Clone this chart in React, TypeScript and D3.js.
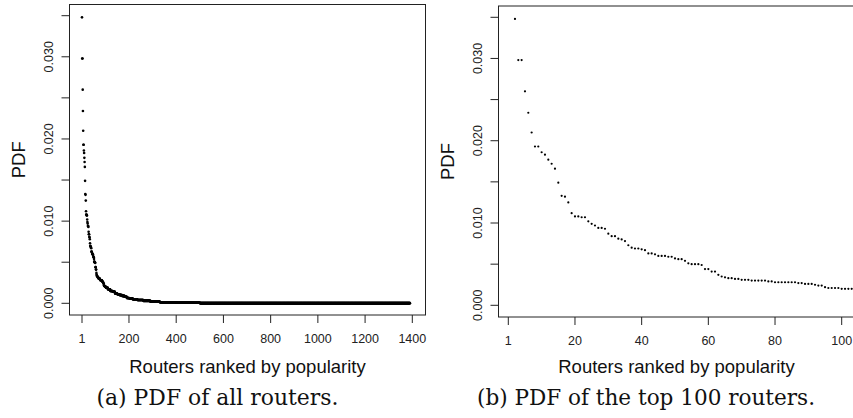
import React from "react";
import * as d3 from "d3";

const W = 853;
const H = 418;

// PDF of the 102 most popular routers
const topPdf = [
  0.0348, 0.0298, 0.0298, 0.026, 0.0234, 0.021, 0.0193, 0.0193, 0.0186, 0.0183,
  0.0177, 0.0172, 0.0166, 0.0149, 0.0133, 0.0132, 0.0125, 0.0112, 0.0108, 0.0108,
  0.0107, 0.0107, 0.0102, 0.0099, 0.0097, 0.0094, 0.0094, 0.0093, 0.0087, 0.0084,
  0.0084, 0.0081, 0.008, 0.0078, 0.0073, 0.007, 0.0069, 0.0069, 0.0068, 0.0067,
  0.0063, 0.0063, 0.0062, 0.006, 0.006, 0.006, 0.0059, 0.0059, 0.0057, 0.0056,
  0.0056, 0.0054, 0.0051, 0.005, 0.005, 0.005, 0.0049, 0.0044, 0.0044, 0.0041,
  0.0041, 0.0037, 0.0035, 0.0034, 0.0033, 0.0033, 0.0032, 0.0032, 0.0031, 0.0031,
  0.0031, 0.003, 0.003, 0.003, 0.003, 0.003, 0.0029, 0.0029, 0.0028, 0.0028,
  0.0028, 0.0028, 0.0028, 0.0028, 0.0028, 0.0027, 0.0027, 0.0026, 0.0026, 0.0026,
  0.0025, 0.0024, 0.0024, 0.0022, 0.0021, 0.0021, 0.0021, 0.0021, 0.002, 0.002,
  0.002, 0.002,
];

// long tail (ranks 103..1390), as runs of equal value
const tailPdf = [
  0.0019, 0.0017, 0.0015, 0.0014, 0.0012, 0.0011, 0.001, 0.0009, 0.0008, 0.00065,
  0.0006, 0.0005, 0.0004, 0.0003, 0.0002, 0.00012, 0.00006, 0.00002,
];
const tailRun = [8, 10, 10, 10, 10, 10, 10, 10, 10, 10, 15, 20, 25, 30, 40, 70, 100, 890];

const yTicks = [0, 0.005, 0.01, 0.015, 0.02, 0.025, 0.03, 0.035];
const yLabelled = [0, 0.01, 0.02, 0.03];
const allXTicks = [1, 200, 400, 600, 800, 1000, 1200, 1400];
const topXTickAt = [0, 20, 40, 60, 80, 100];
const topXTickLabels = ["1", "20", "40", "60", "80", "100"];

const allPdf: number[] = [...topPdf];
tailPdf.forEach((v, i) => {
  for (let k = 0; k < tailRun[i]; k++) allPdf.push(v);
});

const fmt = d3.format(".3f");
const sans = "'Liberation Sans', Arial, Helvetica, sans-serif";
const serif = "'DejaVu Serif', serif";

type PanelProps = {
  box: { x0: number; x1: number; y0: number; y1: number };
  x: d3.ScaleLinear<number, number>;
  y: d3.ScaleLinear<number, number>;
  xTicks: number[];
  xLabels: string[];
  pts: { cx: number; cy: number }[];
  r: number;
  caption: string;
  captionX: number;
  captionWidth: number;
};

const Panel = ({ box, x, y, xTicks, xLabels, pts, r, caption, captionX, captionWidth }: PanelProps) => {
  const midX = (box.x0 + box.x1) / 2;
  return (
    <g>
      <rect
        x={box.x0}
        y={box.y0}
        width={box.x1 - box.x0}
        height={box.y1 - box.y0}
        fill="none"
        stroke="#222"
        strokeWidth={1}
      />
      {yTicks.map((t, i) => (
        <line key={i} x1={box.x0 - 8} x2={box.x0} y1={y(t)} y2={y(t)} stroke="#222" />
      ))}
      {yLabelled.map((t, i) => (
        <text
          key={i}
          transform={`translate(${box.x0 - 17},${y(t)}) rotate(-90)`}
          textAnchor="middle"
          fontFamily={sans}
          fontSize={12.5}
          fill="#222"
        >
          {fmt(t)}
        </text>
      ))}
      {xTicks.map((t, i) => (
        <g key={i} transform={`translate(${x(t)},${box.y1})`}>
          <line y1={0} y2={8} stroke="#222" />
          <text y={27.5} textAnchor="middle" fontFamily={sans} fontSize={12.5} fill="#222">
            {xLabels[i]}
          </text>
        </g>
      ))}
      <text
        transform={`translate(${box.x0 - 45},${(box.y0 + box.y1) / 2}) rotate(-90)`}
        textAnchor="middle"
        fontFamily={sans}
        fontSize={18.5}
        fill="#111"
      >
        PDF
      </text>
      <text x={midX} y={372.5} textAnchor="middle" fontFamily={sans} fontSize={18.5} fill="#111">
        Routers ranked by popularity
      </text>
      {pts.map((p, i) => (
        <circle key={i} cx={p.cx} cy={p.cy} r={r} fill="#000" />
      ))}
      <text
        x={captionX}
        y={404.5}
        fontFamily={serif}
        fontSize={22}
        fill="#111"
        textAnchor="middle"
        textLength={captionWidth}
        lengthAdjust="spacingAndGlyphs"
      >
        {caption}
      </text>
    </g>
  );
};

const App = () => {
  // panel (a): all routers
  const boxA = { x0: 69.5, x1: 425.5, y0: 4.5, y1: 315 };
  const xA = d3.scaleLinear().domain([1, 1400]).range([82, 412.3]);
  const yA = d3.scaleLinear().domain([0, 0.035]).range([303.3, 15.7]);
  const ptsA = allPdf.map((v, i) => ({ cx: xA(i + 1), cy: yA(v) }));

  // panel (b): top 100 routers
  const boxB = { x0: 498.5, x1: 854.5, y0: 6, y1: 317 };
  const xB = d3.scaleLinear().domain([0, 100]).range([508.3, 841.7]);
  const yB = d3.scaleLinear().domain([0, 0.035]).range([305.3, 17.3]);
  const ptsB = topPdf.map((v, i) => ({ cx: xB(i + 2), cy: yB(v) }));

  return (
    <svg
      width={W}
      height={H}
      style={{ position: "absolute", left: 0, top: 0, background: "#fff" }}
    >
      <Panel
        box={boxA}
        x={xA}
        y={yA}
        xTicks={allXTicks}
        xLabels={allXTicks.map(String)}
        pts={ptsA}
        r={1.3}
        caption="(a) PDF of all routers."
        captionX={217.5}
        captionWidth={242}
      />
      <Panel
        box={boxB}
        x={xB}
        y={yB}
        xTicks={topXTickAt}
        xLabels={topXTickLabels}
        pts={ptsB}
        r={1.1}
        caption="(b) PDF of the top 100 routers."
        captionX={646}
        captionWidth={338}
      />
    </svg>
  );
};

export default App;
